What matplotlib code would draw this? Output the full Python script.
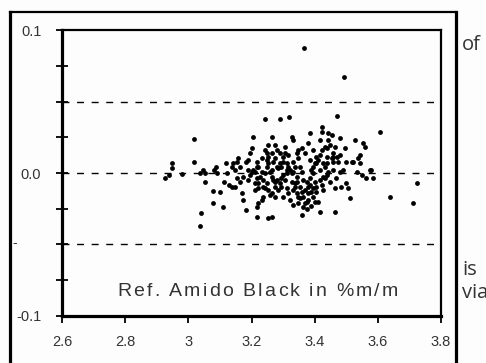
import numpy as np
import matplotlib.pyplot as plt
from matplotlib.lines import Line2D

# reference amido black (% m/m) vs. deviation
ref = [2.949, 2.949, 2.937, 2.926, 2.979, 3.018, 3.018, 3.037, 3.047, 3.053,
       3.053, 3.040, 3.037, 3.077, 3.077, 3.081, 3.088, 3.090, 3.100, 3.111,
       3.114, 3.119, 3.123, 3.130, 3.137, 3.148, 3.153, 3.142, 3.153, 3.158,
       3.164, 3.169, 3.174, 3.182, 3.182, 3.190, 3.195, 3.195, 3.200, 3.206,
       3.190, 3.216, 3.211, 3.216, 3.222, 3.211, 3.216, 3.222, 3.216, 3.232,
       3.237, 3.243, 3.237, 3.243, 3.248, 3.253, 3.243, 3.248, 3.253, 3.264,
       3.264, 3.269, 3.274, 3.258, 3.253, 3.264, 3.274, 3.274, 3.280, 3.285,
       3.290, 3.290, 3.295, 3.301, 3.301, 3.306, 3.311, 3.311, 3.316, 3.322,
       3.327, 3.332, 3.332, 3.338, 3.343, 3.338, 3.343, 3.332, 3.348, 3.348,
       3.353, 3.359, 3.364, 3.364, 3.359, 3.369, 3.375, 3.380, 3.380, 3.380,
       3.385, 3.385, 3.385, 3.390, 3.396, 3.396, 3.396, 3.401, 3.406, 3.406,
       3.406, 3.417, 3.417, 3.417, 3.417, 3.422, 3.422, 3.427, 3.427, 3.433,
       3.438, 3.438, 3.443, 3.443, 3.448, 3.454, 3.459, 3.459, 3.464, 3.464,
       3.469, 3.480, 3.480, 3.485, 3.491, 3.496, 3.501, 3.501, 3.506, 3.512,
       3.517, 3.522, 3.527, 3.533, 3.538, 3.543, 3.543, 3.549, 3.554, 3.559,
       3.564, 3.575, 3.580, 3.585, 3.607, 3.638, 3.712, 3.723,
       3.366, 3.493, 3.243, 3.290, 3.319, 3.470,
       3.206, 3.222, 3.227, 3.232, 3.237, 3.248, 3.253, 3.258, 3.264, 3.269,
       3.274, 3.280, 3.285, 3.290, 3.295, 3.301, 3.306, 3.311, 3.316, 3.322,
       3.327, 3.332, 3.338, 3.343, 3.348, 3.353, 3.359, 3.364, 3.369, 3.375,
       3.380, 3.385, 3.390, 3.396, 3.401, 3.406, 3.411, 3.417, 3.422, 3.427,
       3.433, 3.438, 3.443, 3.448, 3.454, 3.459, 3.464, 3.470, 3.475, 3.401,
       3.411, 3.390, 3.375, 3.369, 3.353, 3.343, 3.327, 3.316, 3.301, 3.280,
       3.264, 3.248, 3.232, 3.216, 3.200, 3.190, 3.174, 3.164, 3.148, 3.137,
       3.211, 3.222, 3.264, 3.274, 3.295, 3.311, 3.332, 3.359, 3.396, 3.422,
       3.433, 3.348, 3.306, 3.253, 3.438, 3.459, 3.480]
dev = [0.0068, 0.0033, -0.0014, -0.0037, -0.0009, 0.0235, 0.0079, 0.0002, 0.0021, 0.0002,
       -0.0060, -0.0277, -0.0368, -0.0123, -0.0212, 0.0021, 0.0044, -0.0002, -0.0130, -0.0235,
       -0.0060, 0.0068, -0.0002, -0.0084, -0.0095, -0.0095, -0.0037, 0.0068, 0.0079, 0.0103,
       0.0044, -0.0142, -0.0188, -0.0258, 0.0079, 0.0091, -0.0014, 0.0138, 0.0172, 0.0249,
       -0.0049, 0.0044, 0.0009, -0.0037, -0.0072, -0.0119, -0.0235, -0.0212, -0.0305, -0.0188,
       -0.0165, -0.0107, -0.0049, -0.0002, 0.0044, 0.0068, 0.0161, 0.0138, 0.0196, 0.0254,
       0.0138, -0.0049, -0.0095, -0.0154, -0.0317, -0.0305, 0.0196, -0.0165, -0.0049, 0.0033,
       0.0068, 0.0138, -0.0095, 0.0114, -0.0165, 0.0184, 0.0068, -0.0002, 0.0126, 0.0021,
       0.0254, 0.0231, 0.0079, -0.0072, 0.0138, -0.0095, -0.0142, -0.0223, -0.0165, -0.0212,
       0.0044, 0.0172, -0.0049, -0.0235, -0.0293, 0.0138, -0.0060, -0.0095, -0.0188, 0.0207,
       0.0277, 0.0091, -0.0037, -0.0130, 0.0161, -0.0002, -0.0165, -0.0200, 0.0114, 0.0068,
       -0.0095, 0.0231, 0.0021, -0.0049, -0.0270, 0.0324, 0.0289, 0.0068, -0.0119, 0.0184,
       0.0114, -0.0014, 0.0277, 0.0231, 0.0196, 0.0266, 0.0138, 0.0079, 0.0184, -0.0270,
       -0.0037, 0.0009, 0.0242, -0.0095, 0.0021, 0.0172, 0.0079, -0.0072, -0.0107, -0.0177,
       0.0079, 0.0079, 0.0231, 0.0009, 0.0103, 0.0126, 0.0068, -0.0014, 0.0207, 0.0184,
       -0.0037, 0.0021, 0.0021, -0.0037, 0.0284, -0.0165, -0.0212, -0.0072,
       0.0874, 0.0670, 0.0377, 0.0377, 0.0390, 0.0400,
       0.0021, 0.0044, -0.0025, 0.0009, -0.0095, -0.0072, -0.0119, 0.0009, -0.0025, 0.0079,
       0.0103, 0.0161, -0.0119, -0.0072, 0.0044, -0.0014, -0.0049, -0.0107, -0.0142, -0.0188,
       -0.0060, 0.0009, 0.0044, -0.0025, 0.0103, -0.0095, -0.0130, -0.0165, -0.0119, -0.0200,
       -0.0142, -0.0084, 0.0021, 0.0044, -0.0060, -0.0130, 0.0091, 0.0126, 0.0161, -0.0025,
       0.0044, 0.0068, 0.0009, -0.0060, 0.0103, 0.0021, -0.0107, 0.0114, 0.0079, 0.0068,
       -0.0200, -0.0230, -0.0250, -0.0212, -0.0177, -0.0060, -0.0002, 0.0044, 0.0079, 0.0044,
       0.0021, 0.0091, 0.0103, 0.0079, 0.0009, 0.0021, -0.0025, -0.0060, 0.0021, 0.0044,
       -0.0072, -0.0107, -0.0142, -0.0060, -0.0037, 0.0021, -0.0119, 0.0009, -0.0107, -0.0084,
       -0.0037, 0.0161, 0.0138, 0.0114, 0.0172, 0.0114, 0.0126]
limits = [0.05, 0.0, -0.05]
xticks = [2.6, 2.8, 3.0, 3.2, 3.4, 3.6, 3.8]
xticklabels = ['2.6', '2.8', '3', '3.2', '3.4', '3.6', '3.8']
yticks = [-0.1, 0.0, 0.1]
yticklabels = ['-0.1', '0.0', '0.1']
label = 'Ref. Amido Black in %m/m'

plt.rcParams['font.family'] = ['Liberation Sans', 'DejaVu Sans']
fig = plt.figure(figsize=(4.86, 3.63), dpi=100)
fig.patch.set_facecolor('#fdfdfd')
ax = fig.add_axes([0.128, 0.1295, 0.779, 0.7878])
ax.set_facecolor('#fdfdfd')

for lim in limits:
    ax.axhline(lim, color='black', lw=1.0, linestyle=(0, (5, 5.5)), zorder=1)
ax.scatter(ref, dev, s=12, color='black', marker='o', linewidths=0, zorder=3)

ax.set_xlim(2.6, 3.8)
ax.set_ylim(-0.1, 0.1)
ax.set_xticks(xticks)
ax.set_xticklabels(xticklabels)
ax.set_yticks(yticks)
ax.set_yticklabels(yticklabels)
ax.set_yticks(np.arange(-0.1, 0.1001, 0.025), minor=True)
ax.tick_params(axis='x', direction='out', length=5, width=1.3, pad=9,
               labelsize=10.5, labelcolor='#333333')
ax.tick_params(axis='y', which='both', direction='inout', length=8, width=1.3,
               pad=11, labelsize=10.5, labelcolor='#333333')

for side, lw in [('left', 2.3), ('bottom', 2.3), ('top', 1.6), ('right', 1.6)]:
    ax.spines[side].set_linewidth(lw)

# letter-spaced axis caption inside the plot
renderer = fig.canvas.get_renderer()
widths = []
for ch in label:
    t = fig.text(0, 0, ch if ch != ' ' else 'n', fontsize=14)
    w = t.get_window_extent(renderer).width
    widths.append(w * (0.45 if ch == ' ' else 1.0))
    t.remove()
target = 281.0
gap = (target - sum(widths)) / (len(label) - 1)
x0 = 117.0
for ch, w in zip(label, widths):
    if ch != ' ':
        fig.text(x0 / 486, 1 - 291.0 / 363, ch, fontsize=14, color='#333333',
                 ha='left', va='center')
    x0 += w + gap

# outer frame of the scanned figure
fig.add_artist(Line2D([0.0206, 0.0206], [0.967, 0.0], color='black', lw=2.3))
fig.add_artist(Line2D([0.939, 0.939], [0.967, 0.0], color='black', lw=2.3))
fig.add_artist(Line2D([0.0206, 0.939], [0.967, 0.967], color='black', lw=1.6))
fig.text(0.031, 0.33, '-', fontsize=10, color='#333333', ha='center', va='center')

# running text of the page to the right
for txt, yy in [('of', 0.876), ('is', 0.256), ('via', 0.193)]:
    fig.text(0.951, yy, txt, fontsize=14.5, color='#333333', family='Open Sans',
             va='center', ha='left')

plt.savefig('out.png', dpi=100)
